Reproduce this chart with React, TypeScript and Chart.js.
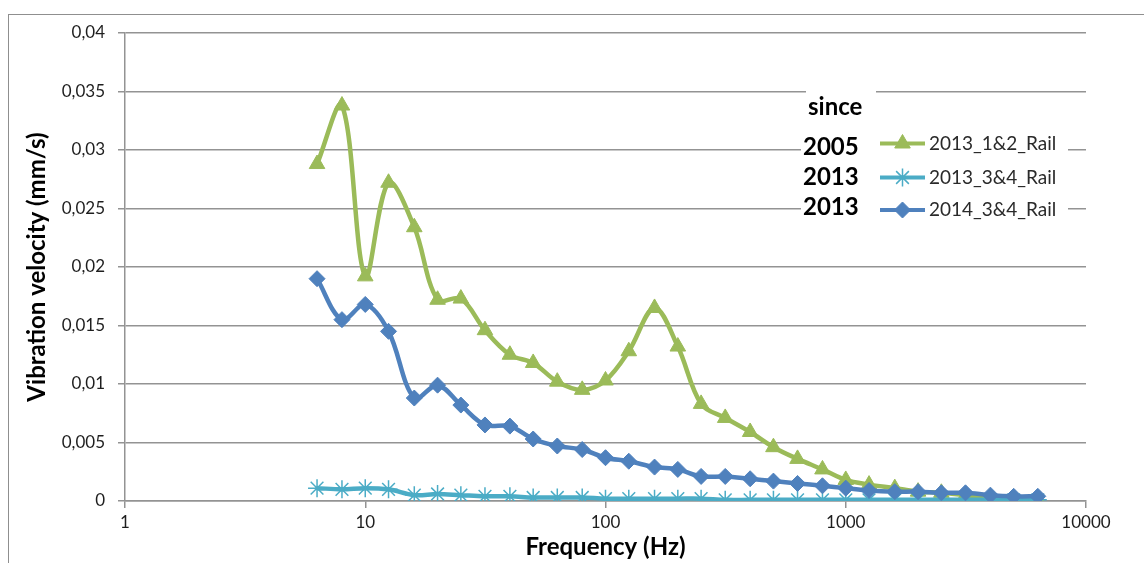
import React, { useEffect, useRef } from 'react';
import { Chart, registerables } from 'chart.js';
import { drawPoint } from 'chart.js/helpers';

Chart.register(...registerables);

const frequencies = [6.3, 8, 10, 12.5, 16, 20, 25, 31.5, 40, 50, 63, 80, 100, 125, 160, 200, 250, 315, 400, 500, 630, 800, 1000, 1250, 1600, 2000, 2500, 3150, 4000, 5000, 6300];
const rail12_2013 = [0.0288, 0.0338, 0.0192, 0.0272, 0.0234, 0.0172, 0.0173, 0.0146, 0.0125, 0.0118, 0.0102, 0.0095, 0.0103, 0.0128, 0.0165, 0.0132, 0.0083, 0.0071, 0.0059, 0.0046, 0.0036, 0.0027, 0.0018, 0.0014, 0.0011, 0.0008, 0.0007, 0.0005, 0.0003, 0.0001, 0.0001];
const rail34_2013 = [0.0011, 0.0010, 0.0011, 0.0010, 0.0005, 0.0006, 0.0005, 0.0004, 0.0004, 0.0003, 0.0003, 0.0003, 0.0002, 0.0002, 0.0002, 0.0002, 0.0002, 0.0001, 0.0001, 0.0001, 0.0001, 0.0001, 0.0001, 0.0001, 0.0001, 0.0001, 0.0001, 0.0001, 0.0001, 0.0001, 0.0001];
const rail34_2014 = [0.0190, 0.0155, 0.0168, 0.0145, 0.0088, 0.0099, 0.0082, 0.0065, 0.0064, 0.0053, 0.0047, 0.0044, 0.0037, 0.0034, 0.0029, 0.0027, 0.0021, 0.0021, 0.0019, 0.0017, 0.0015, 0.0013, 0.0011, 0.0009, 0.0008, 0.0008, 0.0007, 0.0007, 0.0005, 0.0004, 0.0004];

const seriesNames = ['2013_1&2_Rail', '2013_3&4_Rail', '2014_3&4_Rail'];
const sinceLabel = 'since';
const sinceYears = ['2005', '2013', '2013'];
const xTickValues = [1, 10, 100, 1000, 10000];
const xTitle = 'Frequency (Hz)';
const yTitle = 'Vibration velocity (mm/s)';

const GREEN = '#9BBB59';
const CYAN = '#4BACC6';
const BLUE = '#4F81BD';
const GRID = '#939393';
const TEXT = '#1e1e1e';
const FONT = 'Lato, "Open Sans", sans-serif';

const toPoints = (vals: number[]) => vals.map((v, i) => ({ x: frequencies[i], y: v }));

const legendPlugin = {
  id: 'sinceLegend',
  afterDatasetsDraw(chart: any) {
    const ctx = chart.ctx as CanvasRenderingContext2D;
    const ds = chart.data.datasets;
    ctx.save();
    ctx.fillStyle = '#ffffff';
    ctx.fillRect(806, 84, 70, 36);
    ctx.fillRect(801, 128, 267, 98);

    ctx.fillStyle = '#000000';
    ctx.font = `bold 24px ${FONT}`;
    ctx.textAlign = 'left';
    ctx.textBaseline = 'alphabetic';
    ctx.fillText(sinceLabel, 808, 115);
    const yearBase = [155, 185, 215];
    sinceYears.forEach((yr, i) => ctx.fillText(yr, 803, yearBase[i]));

    const rowY = [143.5, 177.5, 210];
    seriesNames.forEach((name, i) => {
      const d = ds[i];
      const y = rowY[i];
      ctx.strokeStyle = d.borderColor;
      ctx.lineWidth = 4;
      ctx.beginPath();
      ctx.moveTo(880, y);
      ctx.lineTo(925, y);
      ctx.stroke();
      ctx.fillStyle = d.pointBackgroundColor;
      ctx.strokeStyle = d.pointBorderColor;
      ctx.lineWidth = d.pointBorderWidth;
      drawPoint(ctx, { pointStyle: d.pointStyle, radius: d.pointRadius, borderWidth: d.pointBorderWidth, rotation: 0 } as any, 902.5, y);
      ctx.fillStyle = '#2a2a2a';
      ctx.font = `19px ${FONT}`;
      ctx.textBaseline = 'middle';
      ctx.fillText(name, 929, y);
      ctx.textBaseline = 'alphabetic';
    });
    ctx.restore();
  },
};

export default function App() {
  const canvasRef = useRef<HTMLCanvasElement | null>(null);

  useEffect(() => {
    const canvas = canvasRef.current;
    if (!canvas) return;
    const chart = new Chart(canvas, {
      type: 'line',
      data: {
        datasets: [
          {
            label: seriesNames[0],
            data: toPoints(rail12_2013),
            borderColor: GREEN,
            backgroundColor: GREEN,
            pointBackgroundColor: GREEN,
            pointBorderColor: GREEN,
            pointStyle: 'triangle',
            pointRadius: 9,
            pointBorderWidth: 1,
            borderWidth: 4.5,
            tension: 0.35,
            order: 2,
          },
          {
            label: seriesNames[1],
            data: toPoints(rail34_2013),
            borderColor: CYAN,
            backgroundColor: CYAN,
            pointBackgroundColor: CYAN,
            pointBorderColor: CYAN,
            pointStyle: 'star',
            pointRadius: 9,
            pointBorderWidth: 1.5,
            borderWidth: 4.5,
            tension: 0.35,
            order: 1,
          },
          {
            label: seriesNames[2],
            data: toPoints(rail34_2014),
            borderColor: BLUE,
            backgroundColor: BLUE,
            pointBackgroundColor: BLUE,
            pointBorderColor: BLUE,
            pointStyle: 'rectRot',
            pointRadius: 8,
            pointBorderWidth: 1,
            borderWidth: 4.5,
            tension: 0.35,
            order: 0,
          },
        ] as any,
      },
      options: {
        responsive: false,
        animation: false,
        events: [],
        layout: { padding: { left: 10, top: 33, right: 58, bottom: 0 } },
        plugins: { legend: { display: false }, tooltip: { enabled: false } },
        scales: {
          x: {
            type: 'logarithmic',
            min: 1,
            max: 10000,
            afterBuildTicks: (scale: any) => {
              scale.ticks = xTickValues.map((v) => ({ value: v }));
            },
            afterFit: (scale: any) => {
              scale.height = 62;
            },
            ticks: {
              autoSkip: false,
              maxRotation: 0,
              padding: 4,
              color: TEXT,
              font: { family: FONT, size: 17 },
              callback: (v: any) => String(v),
            },
            grid: { drawOnChartArea: false, drawTicks: true, tickLength: 7, color: GRID, lineWidth: 1.5 },
            border: { color: GRID, width: 1.5 },
            title: {
              display: true,
              text: xTitle,
              color: '#000',
              font: { family: FONT, size: 24, weight: 'bold' },
              padding: { top: 0, bottom: 1 },
            },
          },
          y: {
            type: 'linear',
            min: 0,
            max: 0.04,
            afterFit: (scale: any) => {
              scale.width = 115;
            },
            ticks: {
              stepSize: 0.005,
              padding: 13,
              color: TEXT,
              font: { family: FONT, size: 17 },
              callback: (v: any) => String(Number(Number(v).toFixed(4))).replace('.', ','),
            },
            grid: { color: GRID, lineWidth: 1.5, tickLength: 7 },
            border: { color: GRID, width: 1.5 },
            title: {
              display: true,
              text: yTitle,
              color: '#000',
              font: { family: FONT, size: 24, weight: 'bold' },
              padding: { top: 12.6, bottom: 0 },
            },
          },
        },
      } as any,
      plugins: [legendPlugin],
    });
    return () => chart.destroy();
  }, []);

  return (
    <div style={{ position: 'fixed', left: 0, top: 0, width: 1144, height: 563, background: '#fff', overflow: 'hidden' }}>
      <div
        style={{
          position: 'absolute',
          left: 8,
          top: 14,
          width: 1200,
          height: 600,
          borderTop: '1.5px solid #8f8f8f',
          borderLeft: '1.5px solid #8f8f8f',
        }}
      />
      <canvas ref={canvasRef} width={1144} height={563} style={{ position: 'absolute', left: 0, top: 0 }} />
    </div>
  );
}
